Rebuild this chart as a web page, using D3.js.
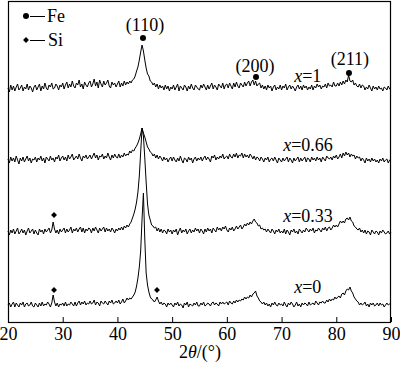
<!DOCTYPE html>
<html>
<head>
<meta charset="utf-8">
<script src="https://cdn.jsdelivr.net/npm/d3@7"></script>
<style>
  body { margin: 0; background: #fff; }
  svg text { font-family: "Liberation Serif", "DejaVu Serif", serif; fill: #000; }
</style>
</head>
<body>
<div id="chart"></div>
<script>
// 2theta grid: 20..90 deg, step 0.25
const angleStart = 20, angleStep = 0.25;
const angleTicks = [20, 30, 40, 50, 60, 70, 80, 90];

// intensities (arbitrary units), one row = 5 deg
const xrd_x1 = [
  10,6,13,8,12,7,11,14,8,10,13,7,11,9,14,8,12,10,6,11,
  13,8,11,14,7,12,9,15,10,8,13,11,15,9,10,14,12,8,13,11,
  15,9,13,16,10,14,11,17,12,10,15,13,18,11,14,9,16,13,11,15,
  17,11,14,19,12,16,10,18,14,11,17,13,15,18,12,10,16,13,15,11,
  14,17,11,15,12,17,13,16,14,17,15,18,19,22,27,31,38,46,53,47,
  38,30,24,22,17,16,13,15,11,14,9,13,10,12,8,13,9,12,7,11,
  9,13,8,11,14,7,12,10,8,13,11,7,12,9,14,10,8,13,11,9,
  8,13,10,14,11,8,13,9,12,15,9,13,11,8,14,12,10,15,9,13,
  14,10,15,12,9,15,11,16,12,10,15,13,11,16,12,15,17,12,16,18,
  13,17,12,14,15,10,13,9,12,8,13,10,12,7,11,13,8,11,9,13,
  8,12,10,14,8,11,13,9,12,10,7,11,13,9,12,8,13,10,12,8,
  11,9,13,8,12,10,14,11,13,9,12,11,14,10,15,12,13,11,16,12,
  12,15,12,16,13,17,14,18,16,23,17,16,18,13,15,12,11,14,10,13,
  12,8,11,9,13,10,7,12,9,11,8,12,9,10,7,11,10,8,12,9,
  10
];
const xrd_x066 = [
  11,7,13,9,12,8,14,10,6,12,9,13,8,11,14,9,12,7,11,10,
  13,8,12,10,14,9,12,7,13,11,9,14,10,12,8,13,11,15,9,12,
  14,10,13,9,15,11,13,16,10,12,14,11,16,12,9,14,12,15,11,13,
  15,11,14,17,12,15,10,14,13,16,11,14,12,17,13,10,15,12,16,13,
  12,16,12,15,13,17,14,16,15,19,17,20,19,22,24,27,31,36,42,37,
  33,28,23,21,18,17,14,16,12,15,11,14,12,9,13,10,12,8,11,13,
  9,13,10,8,12,9,14,10,7,12,11,8,13,10,12,7,11,13,9,12,
  10,13,9,12,14,10,13,11,8,14,12,15,10,13,11,14,12,16,11,13,
  14,11,16,13,12,16,13,17,12,15,14,17,12,16,13,15,12,16,14,11,
  14,10,13,12,9,13,11,8,12,10,13,8,11,12,9,13,10,7,12,10,
  8,12,9,11,13,8,12,10,7,12,9,11,13,8,12,9,11,13,8,12,
  11,8,13,10,12,9,13,10,12,8,13,11,9,14,12,11,13,10,14,12,
  15,11,13,16,12,17,14,18,15,17,13,16,14,15,11,14,12,13,9,12,
  10,7,12,9,11,8,12,9,11,8,10,7,11,9,12,8,10,11,7,10,
  9
];
const xrd_x033 = [
  11,7,12,9,13,8,11,14,8,10,13,9,12,7,11,14,9,11,13,8,
  12,9,7,13,10,12,8,13,10,12,14,9,12,20,13,9,12,8,13,10,
  12,14,9,13,10,12,15,9,13,11,14,10,13,15,10,14,9,13,11,14,
  13,9,14,11,15,12,9,14,11,13,15,10,14,11,13,10,14,12,9,13,
  11,14,12,15,12,16,14,17,15,18,20,24,28,33,40,50,66,90,114,106,
  84,60,38,27,22,17,16,14,15,11,14,10,13,9,12,11,8,13,10,12,
  8,12,10,13,7,11,14,9,12,10,13,8,11,13,9,12,10,14,11,13,
  9,13,11,8,13,10,14,11,13,9,14,12,10,15,12,14,11,15,13,16,
  12,10,14,12,15,11,13,16,13,15,17,13,15,18,16,19,17,20,18,21,
  23,20,19,16,17,13,14,12,13,10,13,11,9,13,11,8,12,10,13,9,
  11,9,13,8,12,10,7,12,10,13,9,11,8,13,11,9,12,10,14,12,
  10,13,11,14,9,12,11,14,12,10,14,12,15,11,14,15,12,14,17,15,
  17,15,18,21,19,21,19,23,24,22,25,21,20,16,15,13,12,14,10,12,
  9,12,8,11,10,7,12,10,8,11,10,7,11,9,12,10,8,9,11,8,
  10
];
const xrd_x0 = [
  10,12,8,11,13,8,12,10,8,12,10,13,8,11,12,9,10,13,9,8,
  12,10,8,12,9,13,9,11,10,13,11,8,12,20,13,9,12,8,11,10,
  12,9,13,9,11,10,13,11,9,13,9,12,14,10,13,11,14,10,12,11,
  14,11,12,15,10,13,12,9,14,12,11,14,12,10,14,12,15,11,12,14,
  12,15,11,13,16,12,14,17,15,17,16,18,20,23,29,37,48,64,96,122,
  76,42,30,23,18,16,15,13,15,18,14,11,13,10,12,11,8,12,10,12,
  10,8,12,10,13,9,11,10,7,12,10,13,8,11,10,9,12,10,13,9,
  9,12,10,13,9,10,12,11,9,12,13,10,12,11,9,13,11,13,11,12,
  13,10,14,12,11,14,12,15,13,15,14,16,15,18,16,18,17,20,18,21,
  22,24,19,17,14,13,11,13,10,12,9,11,8,12,10,13,10,9,12,10,
  11,9,13,10,8,12,10,13,11,8,10,13,9,11,8,12,10,12,11,9,
  13,10,11,12,10,14,12,10,13,12,14,12,12,15,13,16,14,16,15,18,
  16,18,19,17,21,22,20,24,26,25,28,24,22,18,16,14,13,10,12,10,
  11,13,9,11,8,12,10,12,9,10,12,9,12,10,11,8,10,12,10,11,
  10
];

const traceNames = ["x=1", "x=0.66", "x=0.33", "x=0"];
const traceData = [xrd_x1, xrd_x066, xrd_x033, xrd_x0];
const traceOffsets = [224, 152, 80, 7];

// peak markers: angle, level on the chart's y scale
const feAngles = [44.67, 65.33, 82.32];
const feLevels = [284, 245, 249];
const feLabels = ["(110)", "(200)", "(211)"];
const feLabelAngles = [45.04, 65.14, 82.5];
const feLabelLevels = [291, 250, 257];
const siAngles = [28.41, 28.41, 47.23];
const siLevels = [107, 32, 32];
const nameAngles = [72.3, 70.3, 70.3, 72.3];
const nameLevels = [240, 171, 100, 29];

const width = 400, height = 367;
const plotL = 8, plotR = 391, plotT = 1, plotB = 322;
const serif = '"Liberation Serif", "DejaVu Serif", serif';

const svg = d3.select("#chart").append("svg")
    .attr("width", width)
    .attr("height", height)
    .attr("font-family", serif);

svg.append("rect").attr("width", width).attr("height", height).attr("fill", "#fff");

const x = d3.scaleLinear().domain([20, 90]).range([plotL, plotR]);
const y = d3.scaleLinear().domain([0, plotB - plotT]).range([plotB, plotT]);

// traces
const line = d3.line()
    .x((d, i) => x(angleStart + i * angleStep))
    .y(d => y(d));

traceData.forEach((arr, k) => {
    svg.append("path")
        .datum(arr.map(v => v + traceOffsets[k]))
        .attr("d", line)
        .attr("fill", "none")
        .attr("stroke", "#000")
        .attr("stroke-width", 1)
        .attr("stroke-linejoin", "round");
});

// frame
svg.append("rect")
    .attr("x", plotL + 0.5).attr("y", plotT + 0.5)
    .attr("width", plotR - plotL - 1).attr("height", plotB - plotT)
    .attr("fill", "none")
    .attr("stroke", "#000")
    .attr("stroke-width", 1.2);

// bottom axis, ticks inside
const xAxis = svg.append("g")
    .attr("transform", `translate(0,${plotB})`)
    .call(d3.axisBottom(x).tickValues(angleTicks).tickSizeInner(-5).tickSizeOuter(0).tickPadding(5));
xAxis.attr("font-family", serif).attr("font-size", 18);
xAxis.select(".domain").remove();
xAxis.selectAll(".tick line").attr("stroke", "#000");
xAxis.selectAll(".tick text")
    .attr("font-family", serif)
    .attr("font-size", 18)
    .attr("fill", "#000");

// x label
const xl = svg.append("text")
    .attr("x", 200).attr("y", 358)
    .attr("text-anchor", "middle")
    .attr("font-family", serif)
    .attr("font-size", 18);
xl.append("tspan").text("2");
xl.append("tspan").attr("font-style", "italic").text("θ");
xl.append("tspan").text("/(°)");

// Fe markers and labels
svg.selectAll(".fe").data(feAngles).join("circle")
    .attr("cx", d => x(d))
    .attr("cy", (d, i) => y(feLevels[i]))
    .attr("r", 3)
    .attr("fill", "#000");
svg.selectAll(".felabel").data(feLabels).join("text")
    .attr("x", (d, i) => x(feLabelAngles[i]))
    .attr("y", (d, i) => y(feLabelLevels[i]))
    .attr("text-anchor", "middle")
    .attr("font-family", serif)
    .attr("font-size", 18)
    .text(d => d);

// Si markers
const diamond = d3.symbol().type(d3.symbolDiamond2).size(22);
svg.selectAll(".si").data(siAngles).join("path")
    .attr("d", diamond)
    .attr("transform", (d, i) => `translate(${x(d)},${y(siLevels[i])})`)
    .attr("fill", "#000");

// composition labels
traceNames.forEach((name, i) => {
    const t = svg.append("text")
        .attr("x", x(nameAngles[i]))
        .attr("y", y(nameLevels[i]))
        .attr("font-family", serif)
        .attr("font-size", 18);
    t.append("tspan").attr("font-style", "italic").text("x");
    t.append("tspan").text(name.slice(1));
});

// legend
const lg = svg.append("g").attr("font-family", serif).attr("font-size", 18);
lg.append("circle").attr("cx", 26).attr("cy", 16).attr("r", 3).attr("fill", "#000");
lg.append("line").attr("x1", 30).attr("x2", 45).attr("y1", 16.5).attr("y2", 16.5).attr("stroke", "#000");
lg.append("text").attr("x", 47).attr("y", 22).text("Fe");
lg.append("path").attr("d", diamond).attr("transform", "translate(26,40)").attr("fill", "#000");
lg.append("line").attr("x1", 30).attr("x2", 45).attr("y1", 40.5).attr("y2", 40.5).attr("stroke", "#000");
lg.append("text").attr("x", 48).attr("y", 46).text("Si");
</script>
</body>
</html>
